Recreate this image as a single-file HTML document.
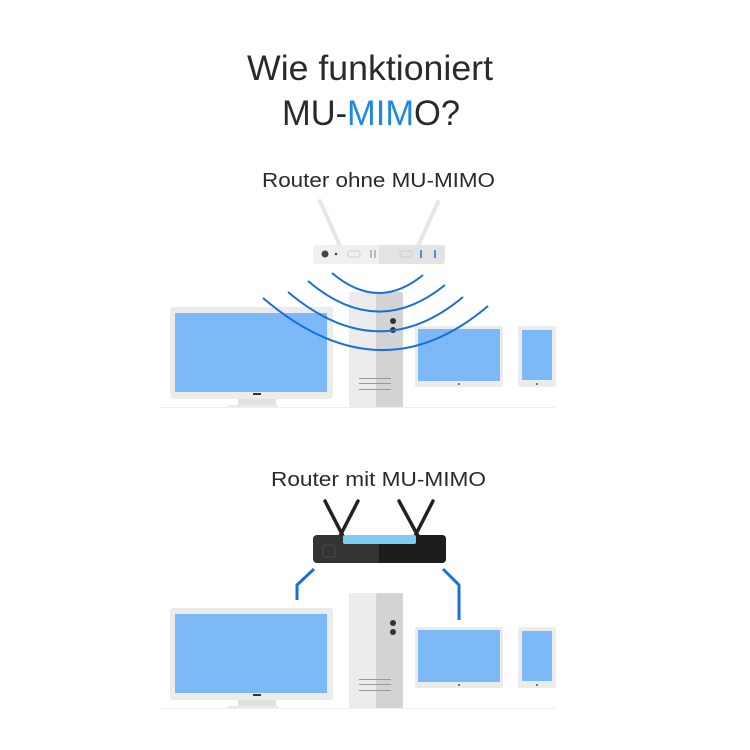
<!DOCTYPE html>
<html><head><meta charset="utf-8"><style>
html,body{margin:0;padding:0;background:#fff;width:750px;height:750px;overflow:hidden}
svg{display:block}
text{font-family:"Liberation Sans",sans-serif;fill:#2a2a2a;font-weight:normal}
</style></head><body>
<svg width="750" height="750" viewBox="0 0 750 750" xmlns="http://www.w3.org/2000/svg">
<text x="247" y="80" font-size="35" textLength="246" lengthAdjust="spacingAndGlyphs">Wie funktioniert</text>
<text x="282" y="125" font-size="35" textLength="178" lengthAdjust="spacingAndGlyphs">MU-<tspan fill="#1e88e5">MIM</tspan>O?</text>
<text x="262" y="187" font-size="20" textLength="233" lengthAdjust="spacingAndGlyphs">Router ohne MU-MIMO</text>
<text x="271" y="486" font-size="20" textLength="215" lengthAdjust="spacingAndGlyphs">Router mit MU-MIMO</text>

<defs>
<g id="devices">
  <rect x="170" y="0" width="163" height="92" rx="3" fill="#ececec"/>
  <rect x="175" y="6" width="152" height="79" fill="#7db9f7"/>
  <rect x="238" y="92" width="38" height="6" fill="#e2e2e2"/>
  <rect x="228" y="98" width="50" height="3" fill="#eaeaea"/>
  <rect x="253" y="86" width="8" height="2" fill="#333"/>
  <rect x="349" y="-15" width="27" height="116" rx="2" fill="#ececec"/>
  <rect x="376" y="-15" width="27" height="116" rx="2" fill="#d3d3d3"/>
  <rect x="359" y="71" width="32" height="1" fill="#999"/>
  <rect x="359" y="76" width="32" height="1" fill="#999"/>
  <rect x="359" y="82" width="32" height="1" fill="#999"/>
  <rect x="415" y="19" width="88" height="61" rx="2" fill="#ececec"/>
  <rect x="418" y="22" width="82" height="52" fill="#7db9f7"/>
  <circle cx="459" cy="77" r="1" fill="#555"/>
  <rect x="518" y="19" width="38" height="61" rx="2" fill="#ececec"/>
  <rect x="522" y="23" width="30" height="50" fill="#7db9f7"/>
  <circle cx="537" cy="77" r="1" fill="#555"/>
  <rect x="160" y="100" width="395" height="1" fill="#eee"/>
</g>
</defs>

<g transform="translate(0,307)"><use href="#devices"/></g>
<circle cx="393" cy="321" r="3" fill="#333"/>
<circle cx="393" cy="330" r="3" fill="#333"/>
<line x1="320" y1="201" x2="340" y2="246" stroke="#e6e6e6" stroke-width="4" stroke-linecap="round"/>
<line x1="438" y1="202" x2="418" y2="246" stroke="#e6e6e6" stroke-width="4" stroke-linecap="round"/>
<rect x="313" y="245" width="132" height="19" rx="3" fill="#f0f0f0"/>
<path d="M379 245 H442 a3 3 0 0 1 3 3 V261 a3 3 0 0 1 -3 3 H379 Z" fill="#e3e3e3"/>
<circle cx="325" cy="254" r="3.5" fill="#444"/>
<circle cx="336" cy="254" r="1.3" fill="#444"/>
<rect x="348" y="251" width="12" height="6" rx="2" fill="none" stroke="#ccc"/>
<rect x="370" y="250" width="2" height="8" fill="#bbb"/><rect x="374" y="250" width="2" height="8" fill="#bbb"/>
<rect x="400" y="251" width="12" height="6" rx="2" fill="none" stroke="#ccc"/>
<rect x="420" y="250" width="2" height="8" fill="#4a90e2"/><rect x="434" y="250" width="2" height="8" fill="#4a90e2"/>
<g fill="none" stroke="#1a6fdc" stroke-width="2">
<path d="M332 273 Q378 312 423 275"/>
<path d="M308 281 Q377 340 445 285"/>
<path d="M288 292 Q378 368 463 297"/>
<path d="M263 298 Q380 398 488 306"/>
</g>

<g transform="translate(0,608)"><use href="#devices"/></g>
<circle cx="393" cy="623" r="3" fill="#333"/>
<circle cx="393" cy="632" r="3" fill="#333"/>
<g stroke="#222" stroke-width="3.5" stroke-linecap="round">
<line x1="325" y1="501" x2="343" y2="536"/><line x1="358" y1="501" x2="340" y2="536"/>
<line x1="399" y1="501" x2="418" y2="536"/><line x1="433" y1="501" x2="415" y2="536"/>
</g>
<rect x="313" y="535" width="133" height="28" rx="4" fill="#333"/>
<path d="M379 535 H442 a4 4 0 0 1 4 4 V559 a4 4 0 0 1 -4 4 H379 Z" fill="#1d1d1d"/>
<rect x="343" y="535" width="73" height="9" rx="2" fill="#7ccff2"/>
<rect x="323" y="545" width="12" height="12" rx="2" fill="none" stroke="#4a4a4a"/>
<g fill="none" stroke="#1a6fdc" stroke-width="3">
<path d="M314 569 L297 585 V600"/>
<path d="M443 569 L459 585 V620"/>
</g>
</svg>
</body></html>
